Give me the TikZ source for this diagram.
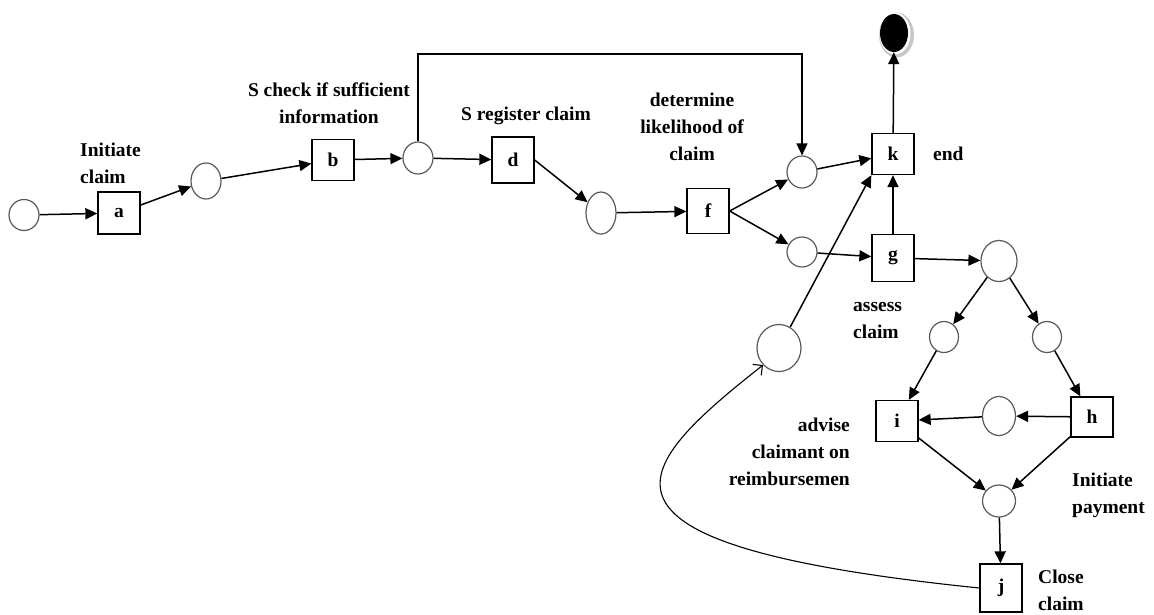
\documentclass[tikz,border=0pt]{standalone}
\usepackage{fontspec}
\setmainfont{Liberation Serif}
\usetikzlibrary{arrows.meta, shapes.geometric, positioning}

\tikzset{
  place/.style={ellipse, draw=black!65, line width=1.2pt, inner sep=0pt},
  trans/.style={rectangle, draw, line width=1.3pt, inner sep=0pt,
    font=\fontsize{19.5}{23}\selectfont\bfseries},
  lbl/.style={inner sep=0pt, font=\fontsize{19.5}{27}\selectfont\bfseries},
  arc/.style={line width=1.5pt, -{Triangle[length=12pt,width=11pt]}},
  backarc/.style={line width=1.1pt, -{Straight Barb[length=7pt,width=14pt]}}
}

\begin{document}
\begin{tikzpicture}[x=1pt, y=-1pt]
\useasboundingbox (0,0) rectangle (1154,614);

% places
\foreach \n/\x/\y/\w/\h in
{pStart/24/215/30/31,
    pAB/206/181/30/36,
    pBD/418/158/30/32,
    pDF/601/213/30/42,
    pFK/802/172/30/32,
    pFG/802/252/30/30,
    pG/999/261/36/41,
    pGI/944/337/29/31,
    pGH/1047/337/29/31,
    pHI/999/416/33/39,
    pIJ/999/501/33/32,
    pJK/779/348/44/47
}
{
    \node[place, minimum width=\w pt, minimum height=\h pt] (\n) at (\x,\y) {};
};

% transitions
\foreach \n/\x/\y/\w/\h/\t in
{tA/119/213/42/42/a,
    tB/333/160/42/41/b,
    tD/513/160/42/46/d,
    tF/708/211/42/45/f,
    tK/893/154/42/41/k,
    tG/893/258/42/47/g,
    tI/897/421/42/41/i,
    tH/1092/417/42/40/h,
    tJ/1001/588/42/48/j
}
{
    \node[trans, minimum width=\w pt, minimum height=\h pt] (\n) at (\x,\y) {\t};
};

% final token
\fill[black!22] (896.5,35) ellipse (17.5 and 22.5);
\fill[white] (895,33.5) ellipse (15.5 and 21);
\node[ellipse, fill=black, inner sep=0pt, minimum width=28pt, minimum height=38pt] (pEnd) at (894,33) {};

% arcs
\foreach \s/\e in
{pStart/tA, tA/pAB, pAB/tB, tB/pBD, pBD/tD, tD.east/pDF, pDF/tF,
    tF.east/pFK, tF.east/pFG, pFK/tK, pFG/tG, tG/tK, tK/pEnd, tG/pG,
    pG/pGI, pG/pGH, pGI/tI, pGH/tH, tH/pHI, pHI/tI, tI/pIJ, tH/pIJ,
    pIJ/tJ, pJK/tK.south west}
{
    \draw[arc] (\s) -- (\e);
};

\coordinate (cTop) at (418,54);
\draw[arc] (pBD.north) -- (cTop) -| (pFK.north);
\draw[backarc] (tJ.west) .. controls (560,545) and (630,470) .. (pJK.south west);

% labels
\node[lbl, align=left, anchor=north west] (lInit) at (80,143) {Initiate\\claim};
\node[lbl, align=center, anchor=north] (lCheck) at (329,83) {S check if sufficient\\information};
\node[lbl, anchor=north] (lReg) at (526,107) {S register claim};
\node[lbl, align=center, anchor=north] (lDet) at (692,93) {determine\\likelihood of\\claim};
\node[lbl, anchor=north west] (lEnd) at (933,147) {end};
\node[lbl, align=left, anchor=north west] (lAssess) at (853,302) {assess\\claim};
\node[lbl, align=right, anchor=north east] (lAdv) at (850,418) {advise\\claimant on\\reimbursemen};
\node[lbl, align=left, anchor=north west] (lPay) at (1072,473) {Initiate\\payment};
\node[lbl, align=left, anchor=north west] (lClose) at (1038,570) {Close\\claim};

\end{tikzpicture}
\end{document}
